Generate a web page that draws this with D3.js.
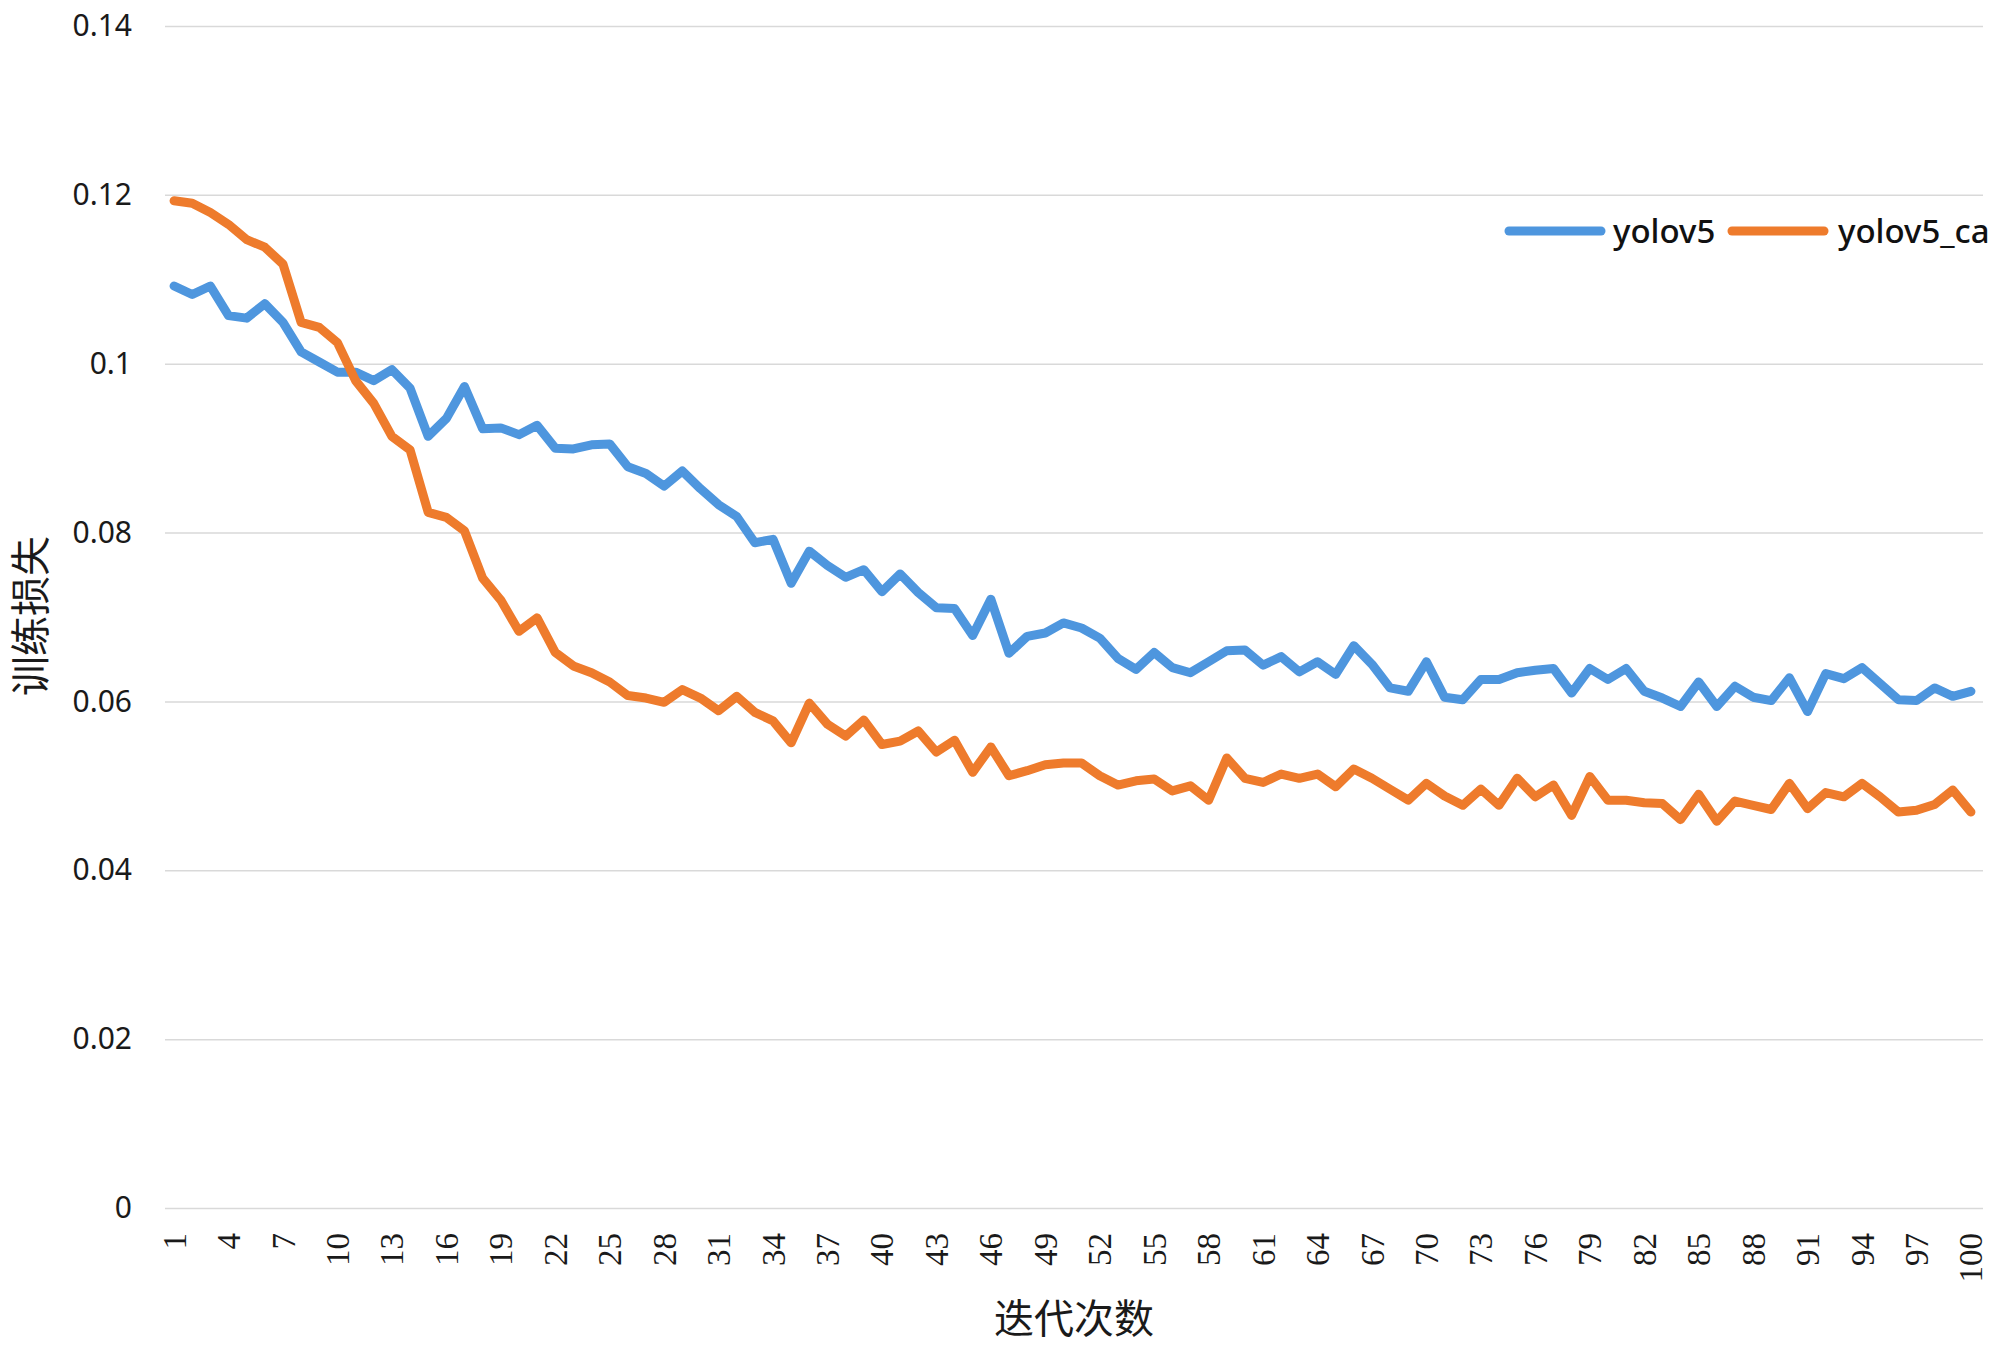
<!DOCTYPE html>
<html>
<head>
<meta charset="utf-8">
<script src="https://cdn.jsdelivr.net/npm/d3@7"></script>
<style>
  html, body { margin: 0; padding: 0; background: #ffffff; }
  svg { display: block; }
</style>
</head>
<body>
<svg id="chart" width="2000" height="1350"></svg>
<script>
// ---------------- data ----------------
const epochs = d3.range(1, 101);

const yolov5 = [
  0.1092, 0.1082, 0.1092, 0.1057, 0.1054, 0.1071, 0.1049, 0.1014, 0.1002, 0.0990,
  0.0990, 0.0980, 0.0993, 0.0971, 0.0914, 0.0935, 0.0973, 0.0923, 0.0924, 0.0916,
  0.0927, 0.0900, 0.0899, 0.0904, 0.0905, 0.0878, 0.0870, 0.0855, 0.0873, 0.0852,
  0.0833, 0.0819, 0.0788, 0.0792, 0.0740, 0.0778, 0.0761, 0.0747, 0.0756, 0.0730,
  0.0751, 0.0729, 0.0711, 0.0710, 0.0678, 0.0721, 0.0657, 0.0677, 0.0681, 0.0693,
  0.0687, 0.0675, 0.0651, 0.0638, 0.0658, 0.0640, 0.0634, 0.0647, 0.0660, 0.0661,
  0.0643, 0.0653, 0.0635, 0.0647, 0.0632, 0.0666, 0.0644, 0.0616, 0.0612, 0.0647,
  0.0605, 0.0602, 0.0626, 0.0626, 0.0634, 0.0637, 0.0639, 0.0610, 0.0639, 0.0626,
  0.0639, 0.0612, 0.0604, 0.0594, 0.0623, 0.0594, 0.0618, 0.0605, 0.0601, 0.0628,
  0.0588, 0.0633, 0.0627, 0.0640, 0.0621, 0.0602, 0.0601, 0.0616, 0.0606, 0.0612
];

const yolov5_ca = [
  0.1193, 0.1190, 0.1179, 0.1165, 0.1147, 0.1138, 0.1118, 0.1049, 0.1043, 0.1025,
  0.0980, 0.0953, 0.0914, 0.0898, 0.0824, 0.0818, 0.0802, 0.0746, 0.0720, 0.0683,
  0.0699, 0.0658, 0.0642, 0.0634, 0.0623, 0.0607, 0.0604, 0.0599, 0.0614, 0.0604,
  0.0589, 0.0606, 0.0587, 0.0577, 0.0551, 0.0598, 0.0573, 0.0559, 0.0578, 0.0549,
  0.0553, 0.0565, 0.0540, 0.0554, 0.0516, 0.0546, 0.0512, 0.0518, 0.0525, 0.0527,
  0.0527, 0.0512, 0.0501, 0.0506, 0.0508, 0.0494, 0.0500, 0.0483, 0.0533, 0.0509,
  0.0504, 0.0514, 0.0509, 0.0514, 0.0499, 0.0520, 0.0509, 0.0496, 0.0483, 0.0503,
  0.0488, 0.0477, 0.0496, 0.0477, 0.0509, 0.0487, 0.0501, 0.0465, 0.0511, 0.0483,
  0.0483, 0.0480, 0.0479, 0.0460, 0.0490, 0.0458, 0.0482, 0.0477, 0.0472, 0.0503,
  0.0473, 0.0492, 0.0487, 0.0503, 0.0487, 0.0469, 0.0471, 0.0478, 0.0495, 0.0469
];

const seriesNames = ["yolov5", "yolov5_ca"];
const seriesColors = ["#4E96DE", "#EE7B2C"];
const yTickValues = [0, 0.02, 0.04, 0.06, 0.08, 0.1, 0.12, 0.14];
const xTickValues = epochs.filter(d => (d - 1) % 3 === 0);
const xTitle = "迭代次数";
const yTitle = "训练损失";

// ---------------- layout ----------------
const svg = d3.select("#chart");
const plotLeft = 165, plotRight = 1980, plotTop = 26, plotBottom = 1208;

const x = d3.scaleBand().domain(epochs).range([plotLeft, plotRight]).paddingInner(0).paddingOuter(0);
const xc = d => x(d) + x.bandwidth() / 2;
const y = d3.scaleLinear().domain([0, 0.14]).range([plotBottom, plotTop]);

// gridlines
const grid = svg.append("g")
  .attr("transform", `translate(${plotLeft},0)`)
  .call(d3.axisLeft(y).tickValues(yTickValues).tickSize(-(1983 - plotLeft)).tickFormat(""));
grid.select(".domain").remove();
grid.selectAll("line").attr("stroke", "#d9d9d9").attr("stroke-width", 1.5);

// y axis labels
const fmt = d => d === 0 ? "0" : String(+d.toFixed(2));
const yAxis = svg.append("g")
  .attr("transform", `translate(${plotLeft},0)`)
  .call(d3.axisLeft(y).tickValues(yTickValues).tickSize(0).tickPadding(33).tickFormat(fmt));
yAxis.select(".domain").remove();
yAxis.selectAll("text")
  .attr("font-family", "'Noto Sans', 'Open Sans', sans-serif")
  .attr("font-size", 30)
  .attr("fill", "#1a1a1a");

// x axis labels
const xAxis = svg.append("g")
  .attr("transform", `translate(0,${plotBottom})`)
  .call(d3.axisBottom(x).tickValues(xTickValues).tickSize(0));
xAxis.select(".domain").remove();
xAxis.selectAll("text")
  .attr("transform", "rotate(-90)")
  .attr("x", -25)
  .attr("y", 0)
  .attr("dy", "0.35em")
  .attr("text-anchor", "end")
  .attr("font-family", "'Liberation Serif', 'DejaVu Serif', serif")
  .attr("font-size", 33)
  .attr("fill", "#1a1a1a");

// lines
const line = d3.line()
  .x((d, i) => xc(epochs[i]))
  .y(d => y(d));

const allSeries = [yolov5, yolov5_ca];
svg.append("g").selectAll("path")
  .data(allSeries)
  .join("path")
  .attr("d", d => line(d))
  .attr("fill", "none")
  .attr("stroke", (d, i) => seriesColors[i])
  .attr("stroke-width", 9)
  .attr("stroke-linejoin", "round")
  .attr("stroke-linecap", "round");

// legend
const legendItems = [
  { name: seriesNames[0], color: seriesColors[0], x0: 1509, x1: 1601, tx: 1613 },
  { name: seriesNames[1], color: seriesColors[1], x0: 1732, x1: 1824, tx: 1838 }
];
const legend = svg.append("g");
legend.selectAll("line")
  .data(legendItems)
  .join("line")
  .attr("x1", d => d.x0).attr("x2", d => d.x1)
  .attr("y1", 231).attr("y2", 231)
  .attr("stroke", d => d.color)
  .attr("stroke-width", 9)
  .attr("stroke-linecap", "round");
legend.selectAll("text")
  .data(legendItems)
  .join("text")
  .attr("x", d => d.tx)
  .attr("y", 243)
  .attr("font-family", "'Noto Sans', 'Open Sans', sans-serif")
  .attr("font-size", 33)
  .attr("font-weight", 500)
  .attr("fill", "#111")
  .text(d => d.name);

// axis titles
svg.append("text")
  .attr("x", 1074).attr("y", 1333)
  .attr("text-anchor", "middle")
  .attr("font-family", "'Noto Sans CJK SC', sans-serif")
  .attr("font-size", 40)
  .attr("fill", "#1a1a1a")
  .text(xTitle);

svg.append("text")
  .attr("transform", "translate(45,616) rotate(-90)")
  .attr("text-anchor", "middle")
  .attr("font-family", "'Noto Sans CJK SC', sans-serif")
  .attr("font-size", 40)
  .attr("fill", "#1a1a1a")
  .text(yTitle);
</script>
</body>
</html>
